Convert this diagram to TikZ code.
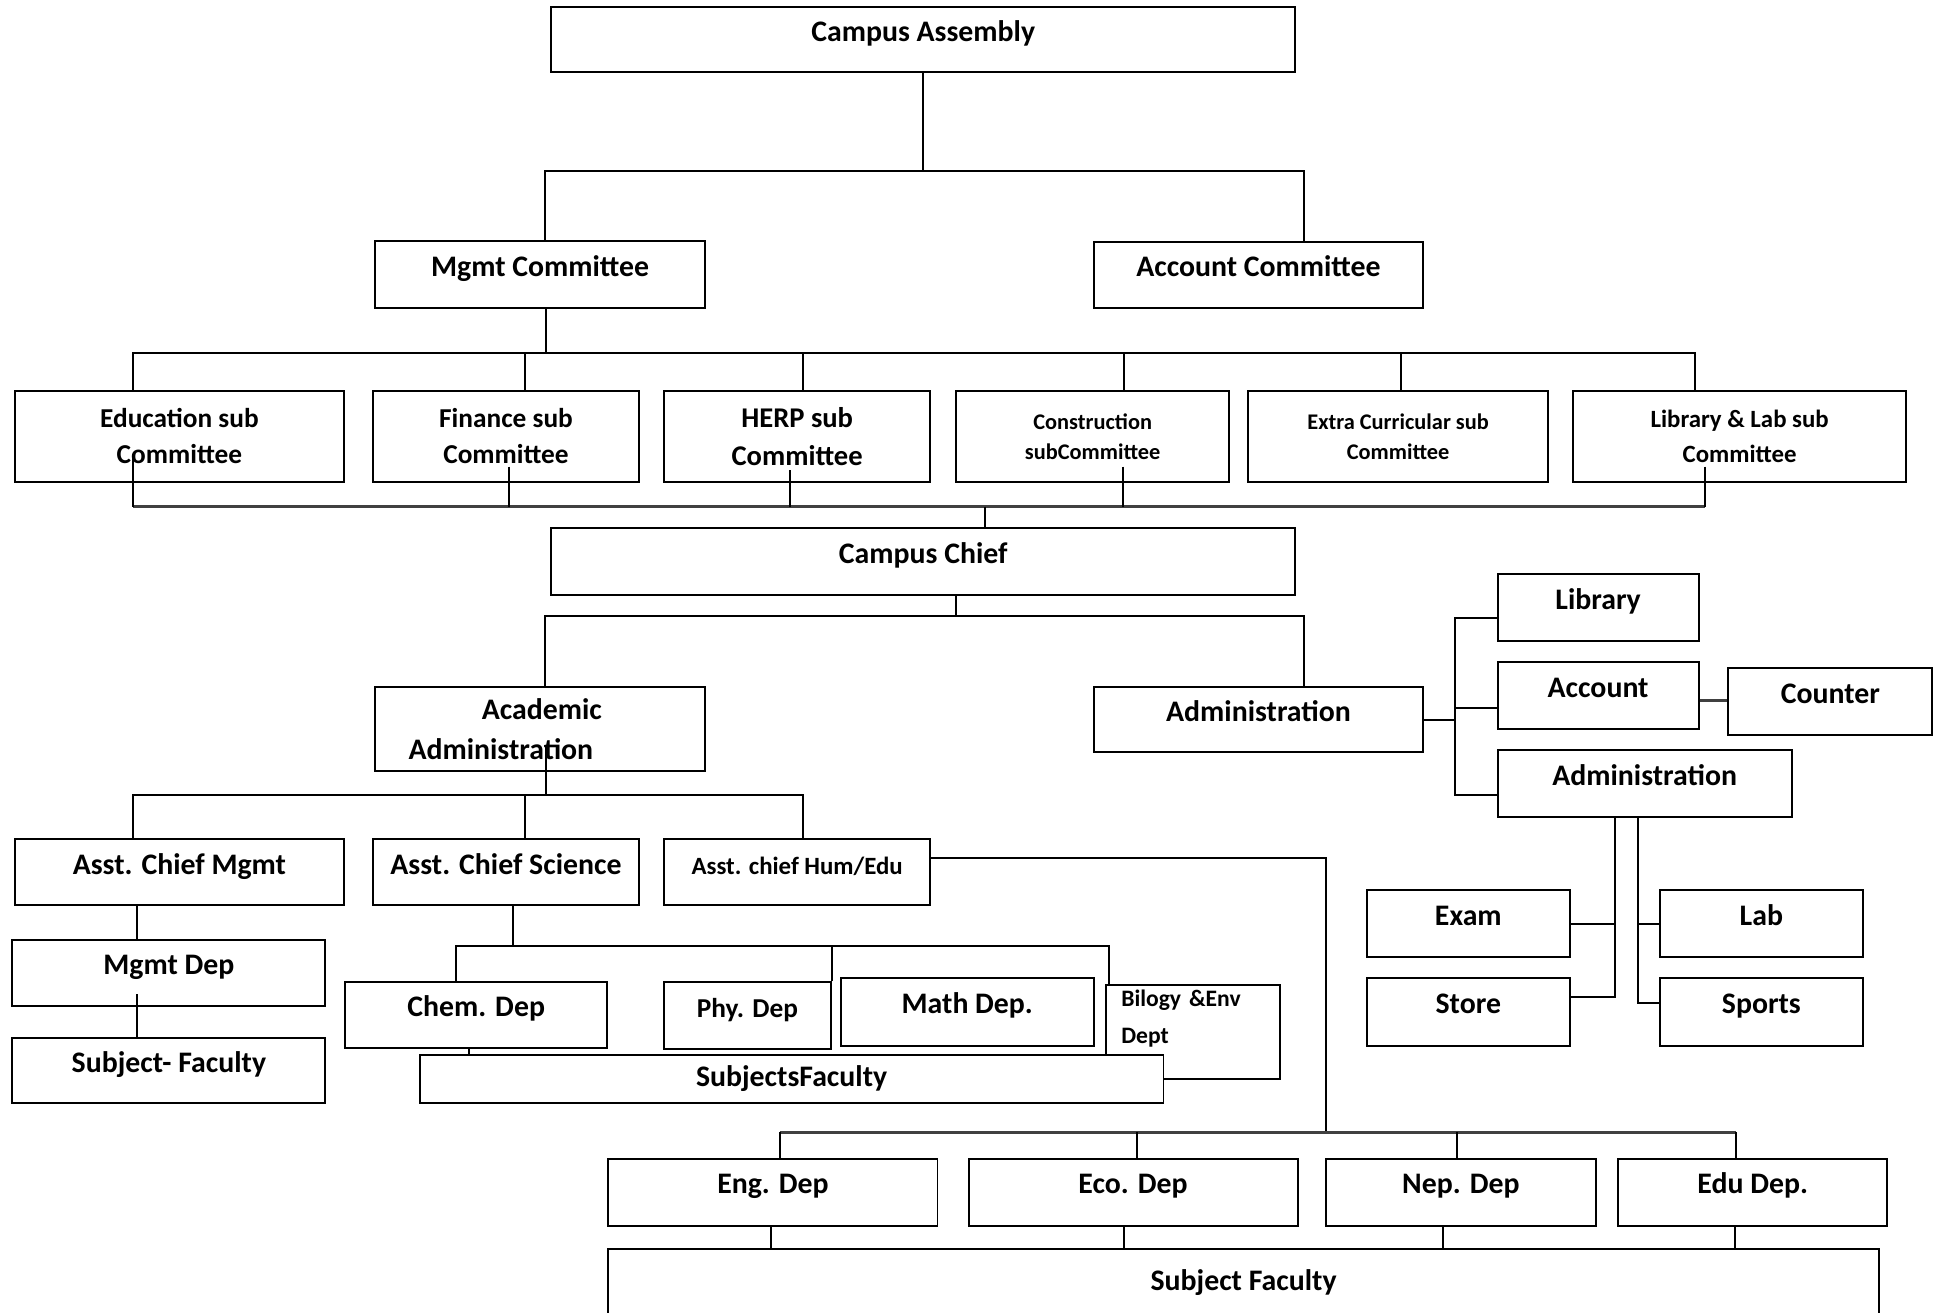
\documentclass[tikz,border=0pt]{standalone}
\usepackage{fontspec}
\setmainfont{Carlito}

\tikzset{
  box/.style={draw, line width=1.6pt, fill=white, inner sep=0pt,
    font=\bfseries\fontsize{24}{29}\selectfont},
  up/.style={text height=18pt, text depth=15pt},
  wire/.style={line width=1.6pt},
  bus/.style={line width=2.6pt, black!75},
}

\begin{document}
\begin{tikzpicture}[x=1pt, y=-1pt]
        \path[fill=white, use as bounding box] (0,0) rectangle (1568,1057);

        % place nodes
        \node[box, up, minimum width=599pt, minimum height=52pt] at (743.5, 32)  (ca) {Campus Assembly};
        \node[box, up, minimum width=266pt, minimum height=54pt] at (435, 221)   (mc) {Mgmt Committee};
        \node[box, up, minimum width=265pt, minimum height=53pt] at (1013.5, 221.5) (ac) {Account Committee};

        \node[box, align=center, font=\bfseries\fontsize{22}{29}\selectfont, minimum width=265pt, minimum height=73pt] at (144.5, 351.5) (edu) {Education sub\\Committee};
        \node[box, align=center, font=\bfseries\fontsize{22}{29}\selectfont, minimum width=215pt, minimum height=73pt] at (407.5, 351.5) (fin) {Finance sub\\Committee};
        \node[box, align=center, font=\bfseries\fontsize{23}{31}\selectfont, minimum width=214pt, minimum height=73pt] at (642, 351.5)   (herp) {HERP sub\\Committee};
        \node[box, align=center, font=\bfseries\fontsize{18}{24}\selectfont, minimum width=220pt, minimum height=73pt] at (880, 351.5)   (cons) {Construction\\subCommittee};
        \node[box, align=center, font=\bfseries\fontsize{18}{24}\selectfont, minimum width=242pt, minimum height=73pt] at (1126, 351.5)  (xtra) {Extra Curricular sub\\Committee};
        \node[box, align=center, font=\bfseries\fontsize{20}{28}\selectfont, minimum width=268pt, minimum height=73pt] at (1401, 351.5)  (liblab) {Library \& Lab sub\\Committee};

        \node[box, up, minimum width=599pt, minimum height=54pt] at (743.5, 452) (cc) {Campus Chief};

        \node[box, align=left, text width=212pt, font=\bfseries\fontsize{24}{32}\selectfont, minimum width=266pt, minimum height=68pt] at (435, 587) (acad) {\hspace*{59pt}Academic\\Administration};
        \node[box, up, minimum width=265pt, minimum height=53pt] at (1013.5, 579.5) (adm) {Administration};

        \node[box, up, minimum width=265pt, minimum height=53pt] at (144.5, 702.5) (acm) {Asst. Chief Mgmt};
        \node[box, up, minimum width=215pt, minimum height=53pt] at (407.5, 702.5) (acs) {Asst. Chief Science};
        \node[box, up, font=\bfseries\fontsize{20}{24}\selectfont, minimum width=214pt, minimum height=53pt] at (642, 702.5) (ach) {Asst. chief Hum/Edu};

        \node[box, up, minimum width=252pt, minimum height=53pt] at (136, 783.5) (mgdep) {Mgmt Dep};
        \node[box, up, minimum width=252pt, minimum height=52pt] at (136, 862)   (mgfac) {Subject- Faculty};

        \node[box, up, minimum width=211pt, minimum height=53pt] at (383.5, 817.5) (chem) {Chem. Dep};
        \node[box, up, font=\bfseries\fontsize{22}{26}\selectfont, minimum width=134pt, minimum height=54pt] at (602, 818) (phy) {Phy. Dep};
        \node[box, up, minimum width=204pt, minimum height=54pt] at (779, 815)   (math) {Math Dep.};
        \node[box, align=left, text width=116pt, font=\bfseries\fontsize{19}{30}\selectfont, minimum width=140pt, minimum height=76pt] at (961, 831) (bio) {Bilogy \&Env\\Dept\rule[-24pt]{0pt}{24pt}};
        \node[box, minimum width=599pt, minimum height=38pt] at (637.5, 869)  (subf) {SubjectsFaculty};

        \node[box, up, minimum width=162pt, minimum height=54pt] at (1287, 489)   (lib) {Library};
        \node[box, up, minimum width=162pt, minimum height=54pt] at (1287, 560)   (acct) {Account};
        \node[box, up, minimum width=164pt, minimum height=54pt] at (1474, 565)   (ctr) {Counter};
        \node[box, up, minimum width=237pt, minimum height=54pt] at (1324.5, 631) (adm2) {Administration};

        \node[box, up, minimum width=163pt, minimum height=54pt] at (1182.5, 744) (exam) {Exam};
        \node[box, up, minimum width=163pt, minimum height=54pt] at (1182.5, 815) (store) {Store};
        \node[box, up, minimum width=163pt, minimum height=54pt] at (1418.5, 744) (lab) {Lab};
        \node[box, up, minimum width=163pt, minimum height=54pt] at (1418.5, 815) (sports) {Sports};

        \node[box, up, minimum width=265pt, minimum height=54pt] at (622.5, 960)  (eng) {Eng. Dep};
        \node[box, up, minimum width=265pt, minimum height=54pt] at (912.5, 960)  (eco) {Eco. Dep};
        \node[box, up, minimum width=217pt, minimum height=54pt] at (1176.5, 960) (nep) {Nep. Dep};
        \node[box, up, minimum width=217pt, minimum height=54pt] at (1411.5, 960) (edud) {Edu Dep.};
        \node[box, minimum width=1023pt, minimum height=54pt] at (1001.5, 1033) (sfac) {Subject Faculty};

        % draw edges
        \coordinate (j1) at (743.5, 138);
        \draw[wire] (ca) -- (j1);
        \draw[wire] ([xshift=4pt]mc.north) |- (j1) -| ([xshift=36.5pt]ac.north);

        \coordinate (j2) at (440, 284);
        \draw[wire] ([xshift=5pt]mc.south) -- (j2);
        \draw[wire] ([xshift=-37.5pt]edu.north) |- (j2);
        \draw[wire] ([xshift=15.5pt]fin.north) |- (j2);
        \draw[wire] ([xshift=5pt]herp.north) |- (j2);
        \draw[wire] ([xshift=25pt]cons.north) |- (j2);
        \draw[wire] ([xshift=2pt]xtra.north) |- (j2);
        \draw[wire] ([xshift=-36pt]liblab.north) |- (j2);

        \coordinate (j3) at (793, 408);
        \coordinate (s1) at ([xshift=-37.5pt, yshift=23pt]edu.south);
        \coordinate (s2) at ([xshift=2.5pt, yshift=13pt]fin.south);
        \coordinate (s3) at ([xshift=-6pt, yshift=10pt]herp.south);
        \coordinate (s4) at ([xshift=24pt, yshift=13pt]cons.south);
        \coordinate (s5) at ([xshift=-28pt, yshift=13pt]liblab.south);
        \draw[bus] (s1 |- j3) -- (s5 |- j3);
        \draw[wire] (s1) -- (s1 |- j3);
        \draw[wire] (s2) -- (s2 |- j3);
        \draw[wire] (s3) -- (s3 |- j3);
        \draw[wire] (s4) -- (s4 |- j3);
        \draw[wire] (s5) -- (s5 |- j3);
        \draw[wire] (j3) -- ([xshift=49.5pt]cc.north);

        \coordinate (j4) at (770, 496);
        \draw[wire] ([xshift=26.5pt]cc.south) -- (j4);
        \draw[wire] ([xshift=4pt]acad.north) |- (j4) -| ([xshift=36.5pt]adm.north);

        \coordinate (j5) at (440, 640);
        \draw[wire] ([xshift=5pt, yshift=21pt]acad.south) -- (j5);
        \draw[wire] ([xshift=-37.5pt]acm.north) |- (j5);
        \draw[wire] ([xshift=15.5pt]acs.north) |- (j5);
        \draw[wire] ([xshift=5pt]ach.north) |- (j5);

        \draw[wire] ([xshift=-34.5pt]acm.south) -- ([xshift=-26pt]mgdep.north);
        \draw[wire] ([xshift=-26pt, yshift=10pt]mgdep.south) -- ([xshift=-26pt]mgfac.north);

        \coordinate (j6) at (413, 762);
        \draw[wire] ([xshift=5.5pt]acs.south) -- (j6);
        \draw[wire] ([xshift=-16.5pt]chem.north) |- (j6);
        \draw[wire] (phy.north east) -- (phy.north east |- j6);
        \draw[wire] ([xshift=-68pt]bio.north) |- (j6);
        \coordinate (c1) at ([xshift=-5.5pt]chem.south);
        \draw[wire] (c1) -- (c1 |- subf.north);

        \coordinate (j7) at (1068, 912);
        \draw[wire] ([yshift=11.5pt]ach.east) -| (j7);
        \coordinate (d1) at ([xshift=5.5pt]eng.north);
        \coordinate (d2) at ([xshift=3.5pt]eco.north);
        \coordinate (d3) at ([xshift=-3.5pt]nep.north);
        \coordinate (d4) at ([xshift=-13.5pt]edud.north);
        \draw[bus] (d1 |- j7) -- (d4 |- j7);
        \draw[wire] (d1 |- j7) -- (d1);
        \draw[wire] (d2 |- j7) -- (d2);
        \draw[wire] (d3 |- j7) -- (d3);
        \draw[wire] (d4 |- j7) -- (d4);

        \coordinate (e1) at ([xshift=-1.5pt]eng.south);
        \coordinate (e2) at ([xshift=-7.5pt]eco.south);
        \coordinate (e3) at ([xshift=-14.5pt]nep.south);
        \coordinate (e4) at ([xshift=-14.5pt]edud.south);
        \draw[wire] (e1) -- (e1 |- sfac.north);
        \draw[wire] (e2) -- (e2 |- sfac.north);
        \draw[wire] (e3) -- (e3 |- sfac.north);
        \draw[wire] (e4) -- (e4 |- sfac.north);

        \coordinate (j8) at (1172, 579.5);
        \draw[wire] (adm) -- (j8);
        \draw[wire] ([yshift=-9pt]lib.west) -| (j8);
        \draw[wire] ([yshift=-10pt]acct.west) -| (j8);
        \draw[wire] ([yshift=-9pt]adm2.west) -| (j8);
        \draw[bus] ([yshift=-4pt]acct.east) -- ([yshift=1pt]ctr.west);

        \coordinate (v1) at ([xshift=-23.5pt]adm2.south);
        \coordinate (v2) at ([xshift=-5.5pt]adm2.south);
        \draw[wire] (v1) |- ([yshift=12pt]store.east);
        \draw[wire] (exam.east) -- (exam.east -| v1);
        \draw[wire] (v2) |- ([yshift=7pt]sports.west);
        \draw[wire] (lab.west) -- (lab.west -| v2);
\end{tikzpicture}
\end{document}
